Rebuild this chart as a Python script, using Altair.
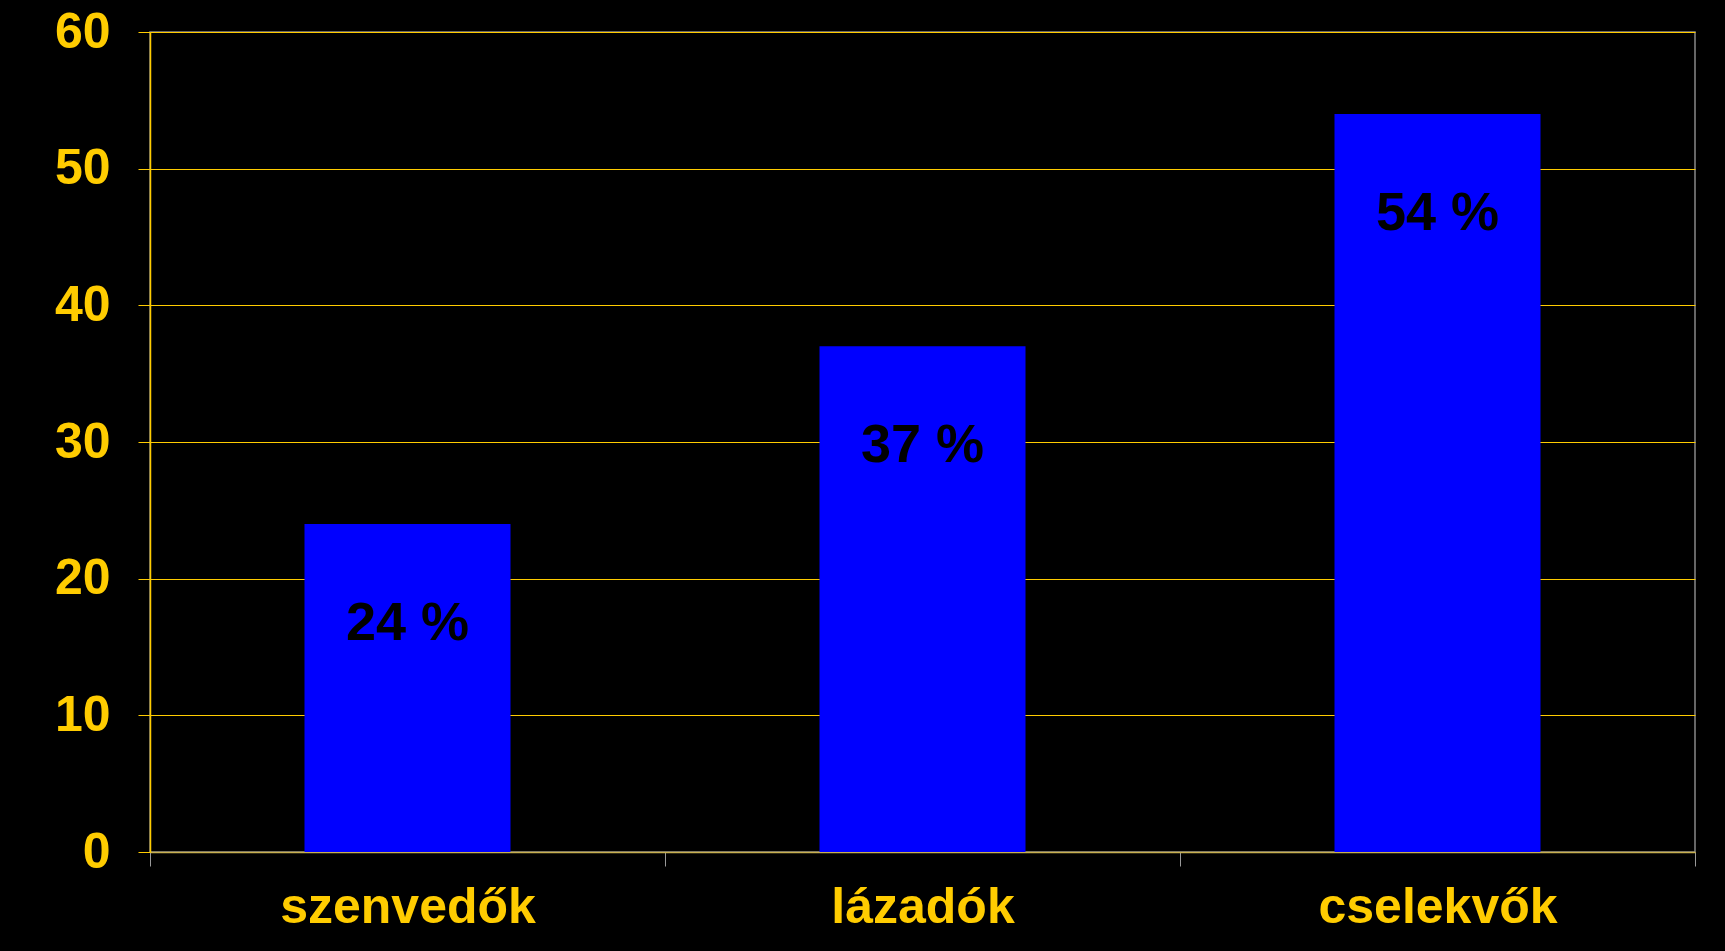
import altair as alt
import pandas as pd

categories = ["szenvedők", "lázadók", "cselekvők"]
values = [24, 37, 54]
labels = ["24 %", "37 %", "54 %"]
y_ticks = [0, 10, 20, 30, 40, 50, 60]

df = pd.DataFrame({"cat": categories, "val": values, "lab": labels})

YELLOW = "#FFCC00"
FONT = "Liberation Sans"

x_enc = alt.X(
    "cat:N",
    sort=categories,
    title=None,
    scale=alt.Scale(paddingInner=0, paddingOuter=0),
    axis=alt.Axis(
        labelAngle=0,
        labelColor=YELLOW,
        labelFont=FONT,
        labelFontWeight="bold",
        labelFontSize=50,
        labelPadding=16,
        labelLimit=0,
        domainColor="#C8B050",
        domainWidth=1.5,
        tickColor="#999999",
        tickSize=14,
        tickWidth=1,
        tickBand="extent",
        grid=False,
    ),
)

y_enc = alt.Y(
    "val:Q",
    title=None,
    scale=alt.Scale(domain=[0, 60], nice=False),
    axis=alt.Axis(
        values=y_ticks,
        labelColor=YELLOW,
        labelFont=FONT,
        labelFontWeight="bold",
        labelFontSize=50,
        labelPadding=28,
        domainColor=YELLOW,
        domainWidth=1.5,
        tickColor=YELLOW,
        tickSize=12,
        gridColor=YELLOW,
        gridWidth=1,
        grid=True,
    ),
)

base = alt.Chart(df)

bars = base.mark_bar(color="#0000FF", width=alt.RelativeBandSize(0.4)).encode(
    x=x_enc, y=y_enc
)

text = base.mark_text(
    color="black",
    font=FONT,
    fontWeight="bold",
    fontSize=54,
    baseline="middle",
    align="center",
    dy=100,
).encode(x=alt.X("cat:N", sort=categories), y=alt.Y("val:Q"), text="lab:N")

chart = (
    alt.layer(bars, text)
    .properties(
        width=1545,
        height=820,
        background="black",
        autosize=alt.AutoSizeParams(type="none"),
        padding={"left": 150, "top": 32, "right": 30, "bottom": 99},
    )
    .configure_view(stroke="#888888", strokeWidth=1.5)
)

chart.save("out.html", embed_options={"renderer": "svg", "actions": False})
